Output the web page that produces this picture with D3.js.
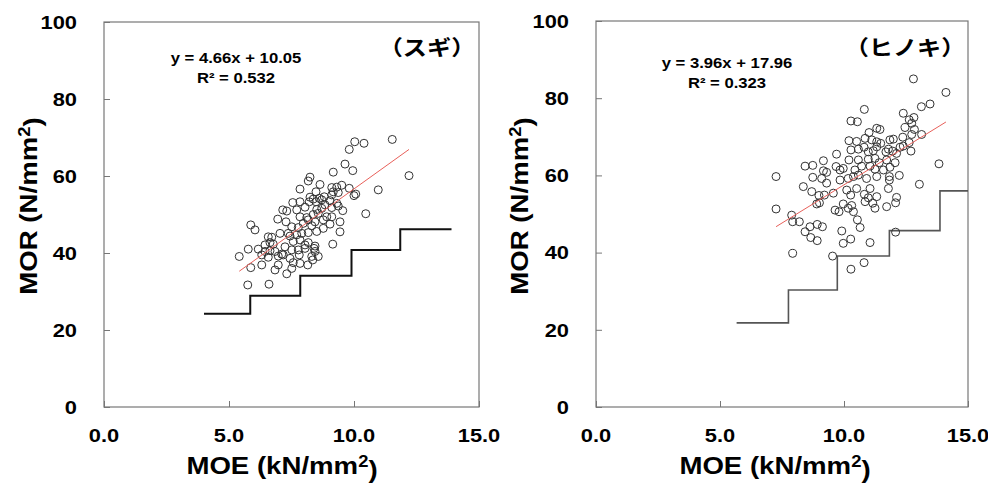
<!DOCTYPE html>
<html>
<head>
<meta charset="utf-8">
<script src="https://cdn.jsdelivr.net/npm/d3@7"></script>
<style>
  body { margin: 0; background: #fff; }
  text { font-family: "Liberation Sans", Arial, sans-serif; }
</style>
</head>
<body>
<div id="chart"></div>
<script>

// ------------------------------------------ DATA -------------------------------------------

// スギ (left panel)
let sugiMOE = [10.03,10.40,11.53,9.81,9.64,9.95,9.17,12.20,8.24,8.17,
  8.64,7.84,9.11,9.31,9.51,9.81,10.97,10.00,10.07,8.48,
  8.24,8.37,8.61,8.81,9.11,9.37,9.17,7.55,7.84,8.21,
  8.48,8.71,9.04,9.31,7.15,7.31,6.95,7.28,7.71,8.04,
  8.51,8.71,8.84,9.11,9.37,9.55,10.47,7.84,8.11,8.37,
  8.57,8.17,8.44,8.77,8.91,9.11,9.44,9.04,5.87,6.04,
  7.51,7.77,7.97,8.31,8.77,9.44,6.57,6.71,7.04,7.37,
  7.44,7.71,7.91,8.17,8.51,6.44,6.64,6.77,7.24,7.57,
  7.84,8.04,8.17,8.44,9.15,5.77,6.17,6.44,6.64,6.84,
  7.11,7.17,7.51,7.77,8.04,8.40,8.44,5.41,6.31,6.57,
  6.97,7.44,7.81,8.31,8.57,5.87,6.31,6.97,6.84,7.31,
  7.51,7.84,7.57,8.15,8.35,5.75,6.60];
let sugiMOR = [68.9,68.5,69.5,66.9,63.1,61.4,61.0,60.1,59.7,58.7,
  57.8,56.6,57.0,57.1,57.6,56.8,56.4,54.9,55.3,55.9,
  54.5,54.0,54.2,54.6,55.1,55.7,55.9,53.1,53.3,53.3,
  53.3,53.8,53.6,52.9,51.2,50.9,48.8,48.1,51.2,51.9,
  51.3,51.6,52.5,51.8,52.2,51.0,50.2,49.4,49.2,50.0,
  50.3,48.6,48.1,48.6,49.4,49.4,48.1,47.5,47.3,46.0,
  46.8,46.6,47.7,47.1,46.4,45.5,44.2,44.1,45.1,45.1,
  44.4,44.7,45.1,45.3,45.6,42.1,42.7,42.3,41.6,43.0,
  43.4,42.1,42.7,41.8,42.3,41.0,41.0,40.4,40.6,40.4,
  39.7,39.5,40.8,40.8,41.2,41.2,40.4,39.1,39.5,38.9,
  39.2,38.6,39.5,39.1,39.1,36.2,36.9,36.9,35.6,34.6,
  36.0,37.3,37.5,36.9,38.2,31.7,31.9];
// regression y = a x + b
let sugiFit = [4.66, 10.05];
let sugiR2 = "0.532";
// grade limit steps (MOE, MOR)
let sugiStepX = [4.0, 5.85, 7.85, 9.9, 11.85, 13.9];
let sugiStepY = [24.2, 28.9, 34.1, 40.8, 46.2, 46.2];

// ヒノキ (right panel)
let hinokiMOE = [12.80,14.11,13.47,13.12,10.82,12.39,12.82,12.63,12.73,12.46,
  12.84,13.13,12.73,12.37,12.63,12.39,12.70,13.83,13.04,10.28,
  10.54,11.32,11.45,11.01,10.85,11.12,11.32,10.20,10.51,11.48,
  11.85,11.99,
  10.28,10.58,10.81,10.98,11.18,11.32,11.69,11.96,12.12,11.79,12.26,
  9.70,10.20,10.58,10.98,11.25,11.42,11.72,12.06,
  8.43,8.74,9.17,9.68,9.84,9.97,10.44,10.71,11.05,11.25,11.59,11.85,
  9.17,9.30,8.74,9.10,9.30,9.84,10.17,10.38,10.58,10.91,11.32,11.83,12.23,
  7.26,8.36,8.70,8.99,9.21,9.57,10.11,10.27,10.51,10.82,11.05,10.98,11.32,11.79,11.83,
  8.90,9.01,9.64,9.80,9.97,10.17,10.31,10.38,10.54,10.85,11.16,11.25,11.72,12.12,12.08,
  7.26,7.89,7.93,8.20,8.43,8.63,8.66,8.92,9.13,8.92,
  9.91,10.65,10.27,9.97,11.05,7.93,9.54,12.08,10.81,10.28];
let hinokiMOR = [85.0,81.5,78.5,77.8,77.1,76.1,75.0,74.4,73.5,72.4,
  71.9,70.6,70.6,69.9,68.5,67.6,66.3,63.0,57.7,74.1,
  73.9,72.2,71.9,71.1,69.6,69.2,68.7,69.0,68.8,68.3,
  69.2,69.4,
  66.6,66.8,67.3,66.1,66.4,67.4,66.1,66.3,65.7,66.8,67.3,
  65.5,64.0,64.0,64.2,64.4,63.3,64.0,63.3,
  62.4,62.6,63.8,62.3,61.4,61.8,61.4,62.4,62.4,61.6,61.4,62.1,
  61.2,60.8,59.5,59.2,58.0,58.8,59.2,59.7,60.1,59.2,59.7,59.7,60.0,
  59.7,57.1,55.8,54.8,54.9,55.4,56.2,54.9,56.6,55.1,56.6,54.2,54.5,56.6,58.8,
  52.6,52.9,51.0,50.6,52.6,51.5,52.2,50.6,48.5,53.2,52.8,51.5,51.9,54.3,52.9,
  51.3,49.7,48.0,48.0,45.4,46.7,43.9,47.3,46.7,43.1,
  45.6,46.5,43.5,42.4,42.6,39.8,39.1,45.3,37.4,35.7];
let hinokiFit = [3.96, 17.96];
let hinokiR2 = "0.323";
let hinokiStepX = [5.67, 7.76, 9.73, 11.83, 13.87, 15];
let hinokiStepY = [21.8, 30.3, 39.1, 45.7, 56.0, 56.0];

// axes
let xTicks = [0, 5, 10, 15];
let yTicks = [0, 20, 40, 60, 80, 100];
let xTitle = "MOE (kN/mm";
let yTitle = "MOR (N/mm";

// ----------------------------------------------------------------------------------------------

var W = 988, H = 485;
var stretch = 1.15; // text in the picture is drawn a little wide

var svg = d3.select("#chart").append("svg")
  .attr("width", W)
  .attr("height", H);

function drawPanel(p) {

  var x = d3.scaleLinear().domain([0, 15]).range([p.left, p.right]);
  var y = d3.scaleLinear().domain([0, 100]).range([p.bottom, p.top]);
  var g = svg.append("g");

  // inner ticks
  g.append("g")
    .attr("transform", "translate(" + p.left + ",0)")
    .call(d3.axisLeft(y).tickValues(yTicks).tickSize(-6).tickSizeOuter(0).tickFormat(""))
    .call(s => s.select(".domain").remove())
    .selectAll("line").attr("stroke", "#777");
  g.append("g")
    .attr("transform", "translate(0," + p.bottom + ")")
    .call(d3.axisBottom(x).tickValues(xTicks).tickSize(-6).tickSizeOuter(0).tickFormat(""))
    .call(s => s.select(".domain").remove())
    .selectAll("line").attr("stroke", "#777");

  // frame
  g.append("rect")
    .attr("x", p.left).attr("y", p.top)
    .attr("width", p.right - p.left).attr("height", p.bottom - p.top)
    .attr("fill", "none").attr("stroke", "#777").attr("stroke-width", 1.2);

  // tick labels
  g.selectAll(".ylab").data(yTicks).enter().append("text")
    .attr("transform", d => "translate(" + (p.left - 27) + "," + y(d) + ") scale(" + stretch + ",1)")
    .attr("dy", "0.36em")
    .attr("text-anchor", "end")
    .style("font-size", "19px").style("font-weight", "bold")
    .text(d => d);
  g.selectAll(".xlab").data(xTicks).enter().append("text")
    .attr("transform", d => "translate(" + x(d) + "," + (p.bottom + 35) + ") scale(" + stretch + ",1)")
    .attr("text-anchor", "middle")
    .style("font-size", "19px").style("font-weight", "bold")
    .text(d => d.toFixed(1));

  // axis titles
  var xt = g.append("text")
    .attr("transform", "translate(" + p.xTitleX + ",474) scale(" + stretch + ",1)")
    .attr("text-anchor", "middle")
    .style("font-size", "24px").style("font-weight", "bold")
    .text(xTitle);
  xt.append("tspan").attr("dy", "-0.45em").style("font-size", "16px").text("2");
  xt.append("tspan").attr("dy", "0.45em").text(")");

  var yt = g.append("text")
    .attr("transform", "translate(" + p.yTitleX + ",206) rotate(-90) scale(" + stretch + ",1)")
    .attr("text-anchor", "middle")
    .style("font-size", "24px").style("font-weight", "bold")
    .text(yTitle);
  yt.append("tspan").attr("dy", "-0.45em").style("font-size", "16px").text("2");
  yt.append("tspan").attr("dy", "0.45em").text(")");

  // grade limit step line
  var steps = p.stepX.map((v, i) => ({x: v, y: p.stepY[i]}));
  g.append("path")
    .datum(steps)
    .attr("fill", "none")
    .attr("stroke", p.stepColor)
    .attr("stroke-width", p.stepWidth)
    .attr("d", d3.line().curve(d3.curveStepAfter)
      .x(d => x(d.x))
      .y(d => y(d.y)));

  // points
  g.append("g").selectAll("circle")
    .data(p.moe)
    .enter()
    .append("circle")
    .attr("cx", d => x(d))
    .attr("cy", (d, i) => y(p.mor[i]))
    .attr("r", 4)
    .attr("fill", "none")
    .attr("stroke", "#333")
    .attr("stroke-width", 1);

  // regression line over the data range
  var ext = d3.extent(p.moe);
  g.append("path")
    .datum(ext)
    .attr("fill", "none")
    .attr("stroke", "#e8605a")
    .attr("stroke-width", 1)
    .attr("d", d3.line()
      .x(d => x(d))
      .y(d => y(p.fit[0] * d + p.fit[1])));

  // equation
  g.append("text")
    .attr("transform", "translate(" + p.eqX + "," + p.eqY + ") scale(" + stretch + ",1)")
    .attr("text-anchor", "middle")
    .style("font-size", "14.5px").style("font-weight", "bold")
    .text("y = " + p.fit[0].toFixed(2) + "x + " + p.fit[1].toFixed(2));
  g.append("text")
    .attr("transform", "translate(" + p.eqX + "," + (p.eqY + 20) + ") scale(" + stretch + ",1)")
    .attr("text-anchor", "middle")
    .style("font-size", "14.5px").style("font-weight", "bold")
    .text("R² = " + p.r2);

  // species
  g.append("text")
    .attr("transform", "translate(" + p.nameX + ",55) scale(" + stretch + ",1)")
    .attr("text-anchor", "middle")
    .style("font-family", "'Noto Sans CJK JP', sans-serif")
    .style("font-size", "21px").style("font-weight", "bold")
    .text(p.name);
}

drawPanel({
  left: 104, right: 479, top: 22, bottom: 407,
  moe: sugiMOE, mor: sugiMOR, fit: sugiFit, r2: sugiR2,
  stepX: sugiStepX, stepY: sugiStepY, stepColor: "#111", stepWidth: 2,
  eqX: 236, eqY: 63, nameX: 427, name: "（スギ）",
  xTitleX: 282, yTitleX: 37
});

drawPanel({
  left: 596, right: 968, top: 21, bottom: 407,
  moe: hinokiMOE, mor: hinokiMOR, fit: hinokiFit, r2: hinokiR2,
  stepX: hinokiStepX, stepY: hinokiStepY, stepColor: "#555", stepWidth: 1.6,
  eqX: 727, eqY: 68, nameX: 905, name: "（ヒノキ）",
  xTitleX: 775, yTitleX: 528
});

</script>
</body>
</html>
